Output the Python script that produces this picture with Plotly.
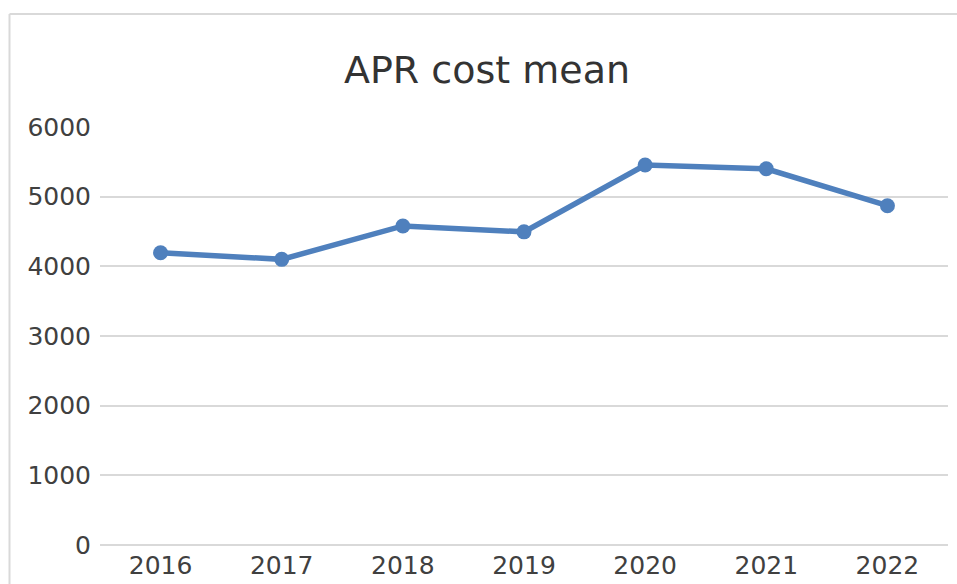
import plotly.graph_objects as go

years = ["2016", "2017", "2018", "2019", "2020", "2021", "2022"]
cost_mean = [4195, 4100, 4580, 4495, 5455, 5400, 4870]
y_ticks = [0, 1000, 2000, 3000, 4000, 5000, 6000]

W, H = 957, 584
# target plot area in page pixels: x 100..948, y 127..545
L, T = 100, 127
R = W - 948
B = H - 545
pw = W - L - R
ph = H - T - B

fig = go.Figure()
fig.add_trace(go.Scatter(
    x=years, y=cost_mean, mode="lines+markers",
    line=dict(color="#4f80bd", width=5.5),
    marker=dict(color="#4f80bd", size=15),
    showlegend=False,
))

# outer chart border (page pixels: left 9.5, top 14), only left and top edges visible
bx0 = (9.5 - L) / pw
by1 = (545 - 14) / ph
fig.add_shape(type="line", xref="paper", yref="paper",
              x0=bx0, x1=bx0, y0=(545 - 640) / ph, y1=by1,
              line=dict(color="#d9d9d9", width=2), layer="below")
fig.add_shape(type="line", xref="paper", yref="paper",
              x0=bx0, x1=(1000 - L) / pw, y0=by1, y1=by1,
              line=dict(color="#d9d9d9", width=2), layer="below")

fig.update_layout(
    width=W, height=H,
    margin=dict(l=L, r=R, t=T, b=B, pad=0),
    paper_bgcolor="white", plot_bgcolor="white",
    font=dict(family="DejaVu Sans", color="#404040"),
    title=dict(text="APR cost mean", x=487 / W, xanchor="center",
               y=1 - 70 / H, yanchor="middle",
               font=dict(size=38, color="#333333")),
    xaxis=dict(type="category", range=[-0.5, 6.5], showgrid=False,
               showline=False, ticks="", tickfont=dict(size=25),
               zeroline=False, ticklabelstandoff=3, automargin=False),
    yaxis=dict(range=[0, 6000], tickvals=y_ticks, showgrid=True,
               gridcolor="#d9d9d9", gridwidth=2, zeroline=True,
               zerolinecolor="#d9d9d9", zerolinewidth=2, showline=False,
               ticks="", tickfont=dict(size=25), ticklabelstandoff=8,
               automargin=False),
)

fig.write_html(
    "out.html",
    config={"displayModeBar": False},
    post_script="document.body.style.margin='0';document.body.style.overflow='hidden';",
)
